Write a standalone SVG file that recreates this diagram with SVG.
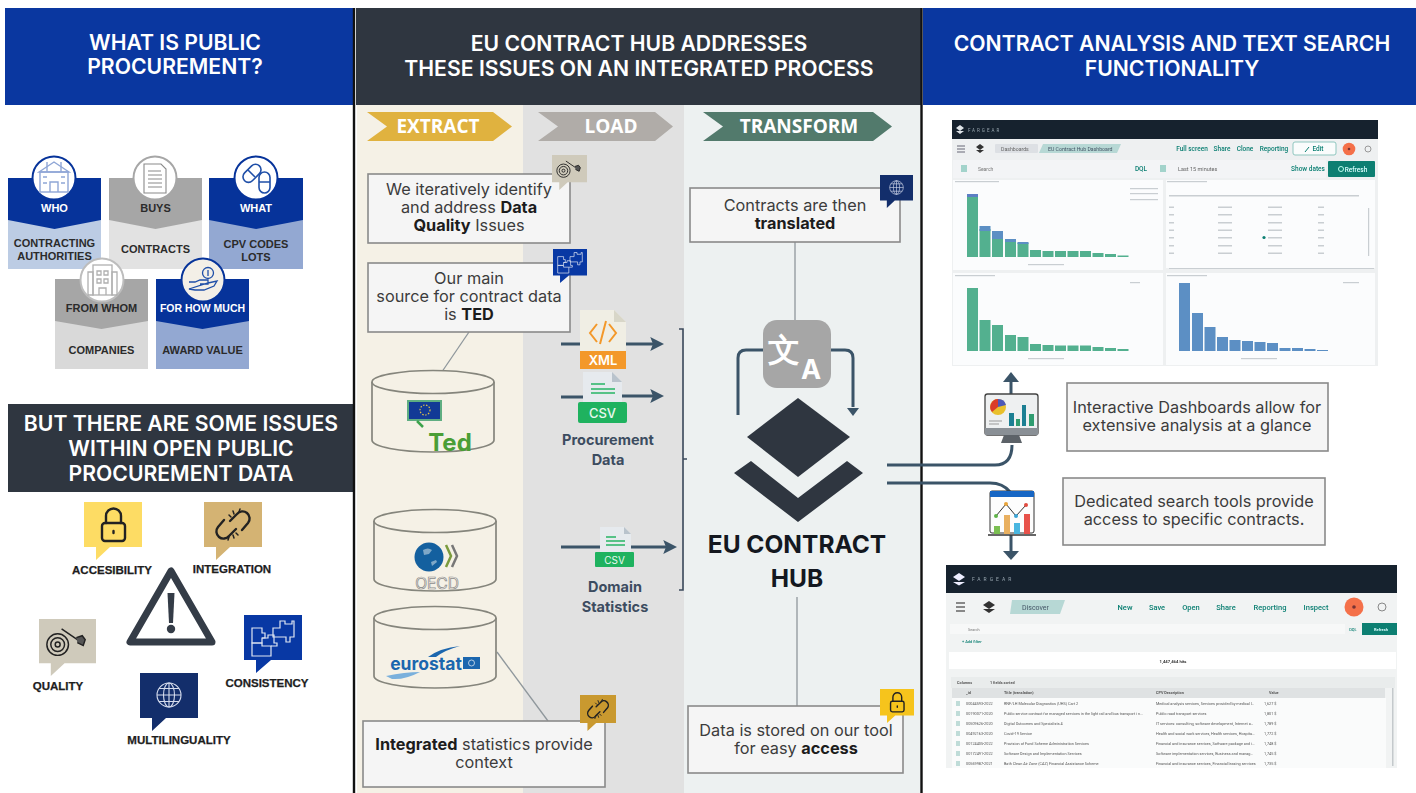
<svg xmlns="http://www.w3.org/2000/svg" width="1416" height="793" viewBox="0 0 1416 793">
<style>
text{font-family:"Inter","Liberation Sans",sans-serif;text-anchor:middle}
.hd{fill:#fff;font-weight:600;font-size:21.200px}
.step{fill:#fff;font-family:"Open Sans","Liberation Sans",sans-serif;font-weight:700;font-size:19px}
.cl{font-family:"Liberation Sans",sans-serif;font-weight:700;font-size:11px;fill:#2b2b2b}
.cw{font-family:"Liberation Sans",sans-serif;font-weight:700;font-size:11px;fill:#fff}
.il{font-family:"Liberation Sans",sans-serif;font-weight:700;font-size:11.500px;fill:#1e1e1e;stroke:#1e1e1e;stroke-width:.25px}
.bx{fill:#f5f5f5;stroke:#8a8a8a;stroke-width:1.600}
.tx{font-size:16.300px;fill:#3c3c3c}
.tx tspan{font-weight:700;fill:#1c1c1c}
.pd{font-weight:700;font-size:14.500px;fill:#3c4c60}
.cn{fill:none;stroke:#3b5468;stroke-width:3}
.th{fill:none;stroke:#8f979c;stroke-width:1.300}
.cy{fill:#f5f1e6;stroke:#85857c;stroke-width:1.700}
.ink{fill:none;stroke:#222;stroke-width:2.400;stroke-linecap:round;stroke-linejoin:round}
.s{font-family:"Roboto","Liberation Sans",sans-serif;text-anchor:start}
.m{font-family:"Roboto","Liberation Sans",sans-serif;text-anchor:middle}
.n{fill:#0b7f72;font-size:6.500px;font-weight:500;text-anchor:middle}
.r{fill:#555;font-size:3.800px}
.g{fill:#52b08f}.b{fill:#5b8fc4}
.ln{fill:#c9ced2}
</style>
<defs>
<filter id="soft" x="-5%" y="-5%" width="110%" height="110%"><feGaussianBlur stdDeviation="0.35"/></filter>
<marker id="ah" viewBox="0 0 10 10" refX="2" refY="5" markerWidth="4.600" markerHeight="4.600" orient="auto-start-reverse"><path d="M0 0L10 5L0 10L2 5Z" fill="#3b5468"/></marker>
<symbol id="lock" viewBox="0 0 58 58" overflow="visible"><path d="M0 0H58V45H26L12 58V45H0Z" fill="#fddc64"/><g class="ink"><rect x="18" y="21" width="23" height="18" rx="3"/><path d="M22 21V14a7.500 7.500 0 0 1 15 0V21"/><path d="M29.500 29v2"/></g></symbol>
<symbol id="lock2" viewBox="0 0 58 58" overflow="visible"><path d="M0 0H58V45H26L12 58V45H0Z" fill="#f6c41c"/><g class="ink"><rect x="18" y="21" width="23" height="18" rx="3"/><path d="M22 21V14a7.500 7.500 0 0 1 15 0V21"/><path d="M29.500 29v2"/></g></symbol>
<g id="chainart" class="ink"><path d="M26 19L33 12a7 7 0 0 1 11 9L38 28"/><path d="M32 27L25 34a7 7 0 0 1-11-9L20 18"/><path d="M29 9l1 3M36 7l-1 3M25 13l2 2M30 36l-1-3M24 38l1-3M34 33l-2-2" stroke-width="1.500"/></g>
<symbol id="chain" viewBox="0 0 58 58" overflow="visible"><path d="M0 0H58V45H26L12 58V45H0Z" fill="#d4b373"/><use href="#chainart"/></symbol>
<symbol id="chain2" viewBox="0 0 58 58" overflow="visible"><path d="M0 0H58V45H26L12 58V45H0Z" fill="#c9992f"/><use href="#chainart"/></symbol>
<symbol id="target" viewBox="0 0 58 58" overflow="visible"><path d="M0 0H58V45H26L12 58V45H0Z" fill="#cfcabb"/><g fill="none" stroke="#222" stroke-width="1.500"><circle cx="19" cy="26" r="11"/><circle cx="19" cy="26" r="7"/><circle cx="19" cy="26" r="2.500"/><path d="M23 10L45 25"/><path d="M38 19l6-2 3 4-2 6-6-3" fill="#555"/></g></symbol>
<symbol id="puzzle" viewBox="0 0 58 58" overflow="visible"><path d="M0 0H58V45H27L12 58V45H0Z" fill="#0838a4"/><g fill="none" stroke="#dfe6f2" stroke-width="1.200"><path d="M8 13H18v5h3v5h-3v5H8Z"/><path d="M8 28H18v3h9v10H8Z"/><path d="M18 23h6v-3h6v8h3v3h-6"/><path d="M29 13h7V6h5v3h7v-3h2v16h-4v5h-4v-5h-13Z"/></g></symbol>
<symbol id="globe" viewBox="0 0 58 58" overflow="visible"><path d="M0 0H58V45H26L12 58V45H0Z" fill="#132e6b"/><g fill="none" stroke="#d5dced" stroke-width="1.100"><circle cx="29" cy="22" r="12"/><ellipse cx="29" cy="22" rx="5.500" ry="12"/><path d="M29 10V34M17 22H41M19 15.500H39M19 28.500H39"/></g></symbol>
<g id="db"><path class="cy" d="M0 12V70A61 12 0 0 0 122 70V12"/><ellipse class="cy" cx="61" cy="12" rx="61" ry="11.500"/></g>
</defs>

<rect width="1416" height="793" fill="#fff"/>
<g id="backgrounds">
<rect x="357" y="105" width="166" height="688" fill="#f5f1e6"/>
<rect x="523" y="105" width="161" height="688" fill="#e1e1e1"/>
<rect x="684" y="105" width="237" height="688" fill="#edf1f1"/>
<rect x="5" y="8" width="348" height="97" fill="#0a37a0"/>
<rect x="356" y="8" width="565" height="97" fill="#2f3640"/>
<rect x="923" y="8" width="493" height="97" fill="#0a37a0"/>
<rect x="8" y="404" width="346" height="88" fill="#2f3640"/>
<path d="M354 8V793M921.500 8V793" stroke="#111" stroke-width="2.400"/>
</g>

<g id="header-left"><text class="hd" x="175" y="50">WHAT IS PUBLIC</text><text class="hd" x="175" y="74">PROCUREMENT?</text></g>
<g id="header-middle"><text class="hd" x="639" y="51">EU CONTRACT HUB ADDRESSES</text><text class="hd" x="639" y="76">THESE ISSUES ON AN INTEGRATED PROCESS</text></g>
<g id="header-right"><text class="hd" x="1172" y="51">CONTRACT ANALYSIS AND TEXT SEARCH</text><text class="hd" x="1172" y="76">FUNCTIONALITY</text></g>
<g id="header-issues"><text class="hd" x="181" y="431">BUT THERE ARE SOME ISSUES</text><text class="hd" x="181" y="456">WITHIN OPEN PUBLIC</text><text class="hd" x="181" y="481">PROCUREMENT DATA</text></g>

<g id="card-who"><rect x="8" y="178" width="93" height="91" fill="#bccce4"/><path d="M8 178H101V220L54.500 229L8 220Z" fill="#06339a"/><circle cx="54" cy="178" r="21.500" fill="#fff" stroke="#06339a" stroke-width="2"/>
<g fill="none" stroke="#8fa6d6" stroke-width="1.400"><path d="M39 172L54 162L69 172Z"/><rect x="40" y="172" width="28" height="20"/><path d="M47 162V172M61 162V172M50 192V182H58V192M43 177H47M61 177H65M43 183H47M61 183H65"/></g>
<text class="cw" x="54.500" y="212">WHO</text><text class="cl" x="54.500" y="247">CONTRACTING</text><text class="cl" x="54.500" y="260">AUTHORITIES</text></g>

<g id="card-buys"><rect x="109" y="178" width="93" height="91" fill="#e2e2e2"/><path d="M109 178H202V220L155.500 229L109 220Z" fill="#a6a6a6"/><circle cx="155" cy="178" r="21.500" fill="#fff" stroke="#a6a6a6" stroke-width="2"/>
<g fill="none" stroke="#8a8a8a" stroke-width="1.100"><path d="M144 164H161L166 169V193H144Z"/><path d="M148 171H161M148 175H162M148 179H162M148 183H162M148 187H162"/></g>
<text x="155.500" y="212" class="cl">BUYS</text><text class="cl" x="155.500" y="253">CONTRACTS</text></g>

<g id="card-what"><rect x="209" y="178" width="94" height="91" fill="#93a8d2"/><path d="M209 178H303V220L256 229L209 220Z" fill="#06339a"/><circle cx="256" cy="178" r="21.500" fill="#fff" stroke="#06339a" stroke-width="2"/>
<g fill="none" stroke="#1f4fa8" stroke-width="1.600"><rect x="242" y="168" width="21" height="11" rx="5.500" transform="rotate(-45 252 174)"/><rect x="259" y="172" width="11" height="21" rx="5.500"/><path d="M259 182H270M248 170l7 7"/></g>
<text class="cw" x="256" y="212">WHAT</text><text class="cl" x="256" y="248">CPV CODES</text><text class="cl" x="256" y="261">LOTS</text></g>

<g id="card-from-whom"><rect x="55" y="279" width="93" height="90" fill="#d9d9d9"/><path d="M55 279H148V321L101.500 329L55 321Z" fill="#a6a6a6"/><circle cx="102" cy="280" r="21.500" fill="#fff" stroke="#bdbdbd" stroke-width="2"/>
<g fill="none" stroke="#b0b0b0" stroke-width="1.300"><rect x="93" y="265" width="19" height="30"/><path d="M88 272H93V295H88ZM112 272H117V295H112Z"/><path d="M97 271h4v4h-4zM104 271h4v4h-4zM97 279h4v4h-4zM104 279h4v4h-4zM99 295V288H106V295"/></g>
<text class="cl" x="101.500" y="312">FROM WHOM</text><text class="cl" x="101.500" y="354">COMPANIES</text></g>

<g id="card-how-much"><rect x="156" y="279" width="93" height="90" fill="#93a8d2"/><path d="M156 279H249V321L202.500 329L156 321Z" fill="#06339a"/><circle cx="203" cy="280" r="21.500" fill="#f3efe7" stroke="#06339a" stroke-width="2"/>
<g fill="none" stroke="#1f4fa8" stroke-width="1.300"><circle cx="208" cy="273" r="5.500"/><path d="M208 270v6"/><path d="M189 282H195L200 280H208V284H200M208 283L217 281L214 286L204 290H195L189 289Z"/></g>
<text class="cw" x="202.500" y="312" style="font-size:10.500px">FOR HOW MUCH</text><text class="cl" x="202.500" y="354">AWARD VALUE</text></g>

<g id="issue-warning"><path d="M171 571L130 642H212Z" fill="none" stroke="#343c47" stroke-width="7" stroke-linejoin="round"/><path d="M167.500 593H174.500L173 623H169Z" fill="#343c47"/><circle cx="171" cy="629" r="4.200" fill="#343c47"/></g>
<g id="issue-accesibility"><use href="#lock" x="84" y="502" width="58" height="58"/><text class="il" x="112" y="574">ACCESIBILITY</text></g>
<g id="issue-integration"><use href="#chain" x="204" y="502" width="58" height="58"/><text class="il" x="232" y="573">INTEGRATION</text></g>
<g id="issue-quality"><use href="#target" x="39" y="619" width="57" height="57"/><text class="il" x="58" y="690">QUALITY</text></g>
<g id="issue-consistency"><use href="#puzzle" x="244" y="615" width="58" height="58"/><text class="il" x="267" y="687">CONSISTENCY</text></g>
<g id="issue-multilinguality"><use href="#globe" x="140" y="673" width="58" height="58"/><text class="il" x="179" y="744">MULTILINGUALITY</text></g>

<g id="step-extract"><path d="M367 112H493L512 126.500L493 141H367L387 126.500Z" fill="#e0b23f"/><text class="step" x="438" y="133">EXTRACT</text></g>
<g id="step-load"><path d="M538 112H655L673 126.500L655 141H538L558 126.500Z" fill="#b0aca8"/><text class="step" x="611" y="133">LOAD</text></g>
<g id="step-transform"><path d="M703 112H873L892 126.500L873 141H703L723 126.500Z" fill="#527a6c"/><text class="step" x="799" y="133">TRANSFORM</text></g>

<g id="connectors">
<path class="th" d="M469 332L435 382"/>
<path class="th" d="M497 652L548 721"/>
<path class="th" d="M795 242V320"/>
<path class="th" d="M797 597V706"/>
<path class="cn" d="M561 344H580M626 344H653" marker-end="url(#ah)"/>
<path class="cn" d="M561 397H583M622 396H653" marker-end="url(#ah)"/>
<path class="cn" d="M561 547H600M631 547H666" marker-end="url(#ah)"/>
<path fill="none" stroke="#3b4a5c" stroke-width="1.600" d="M679 329H683V590H679M683 459H687"/>
<path class="cn" d="M738 415V358Q738 350 746 350H763"/>
<path class="cn" d="M831 350H845Q853 350 853 358V407"/>
<path d="M847 408H859L853 416Z" fill="#3b5468"/>
<path class="cn" d="M887 465H995Q1012 465 1012 445"/>
<path class="cn" d="M887 483H990Q1003 483 1010 492"/>
<path class="cn" d="M1011 394V380"/><path d="M1003 382L1011 372L1019 382Z" fill="#3b5468"/>
<path class="cn" d="M1011 535V553"/><path d="M1003 551L1011 560L1019 551Z" fill="#3b5468"/>
</g>

<g id="note-quality"><rect class="bx" x="368" y="174" width="202" height="69"/><text class="tx" x="469" y="195">We iteratively identify</text><text class="tx" x="469" y="213">and address <tspan>Data</tspan></text><text class="tx" x="469" y="231"><tspan>Quality</tspan> Issues</text><use href="#target" x="552" y="155" width="35" height="35"/></g>
<g id="note-ted"><rect class="bx" x="368" y="263" width="202" height="69"/><text class="tx" x="469" y="284">Our main</text><text class="tx" x="469" y="302">source for contract data</text><text class="tx" x="469" y="320">is <tspan>TED</tspan></text><use href="#puzzle" x="553" y="249" width="34" height="34"/></g>
<g id="note-integrated"><rect class="bx" x="363" y="721" width="242" height="66"/><text class="tx" x="484" y="750"><tspan>Integrated</tspan> statistics provide</text><text class="tx" x="484" y="768">context</text><use href="#chain2" x="580" y="695" width="36" height="36"/></g>
<g id="note-translated"><rect class="bx" x="690" y="188" width="210" height="54"/><text class="tx" x="795" y="211">Contracts are then</text><text class="tx" x="795" y="229"><tspan>translated</tspan></text><use href="#globe" x="880" y="175" width="33" height="33"/></g>
<g id="note-stored"><rect class="bx" x="688" y="706" width="215" height="67"/><text class="tx" x="796" y="736">Data is stored on our tool</text><text class="tx" x="796" y="754">for easy <tspan>access</tspan></text><use href="#lock2" x="880" y="689" width="34" height="34"/></g>
<g id="note-dashboards"><rect class="bx" x="1067" y="383" width="261" height="68"/><text class="tx" x="1197" y="413">Interactive Dashboards allow for</text><text class="tx" x="1197" y="431">extensive analysis at a glance</text></g>
<g id="note-search"><rect class="bx" x="1063" y="478" width="262" height="67"/><text class="tx" x="1194" y="507">Dedicated search tools provide</text><text class="tx" x="1194" y="525">access to specific contracts.</text></g>

<g id="db-ted"><use href="#db" x="372" y="370"/><rect x="408" y="401" width="33" height="19" fill="#123a96" stroke="#5fae82" stroke-width="2"/><circle cx="425" cy="410" r="5" fill="none" stroke="#e0c14a" stroke-width="1.200" stroke-dasharray="1.500 1.500"/><path d="M417 421l6 6" stroke="#3da34c" stroke-width="2.500"/><text x="450" y="451" font-family="Liberation Sans,sans-serif" font-weight="700" font-size="24" fill="#4a9e36">Ted</text></g>
<g id="db-oecd"><use href="#db" x="374" y="509"/><circle cx="429" cy="557" r="14.500" fill="#14609f"/><path d="M423 550q5-3 9 0l-3 4-5 1zM431 562l5-2 1 2-5 4z" fill="#7fa8c8"/><path d="M446 545l5 11-5 11" fill="none" stroke="#7b9b3d" stroke-width="2.500"/><path d="M452 545l5 11-5 11" fill="none" stroke="#777" stroke-width="2.500"/><text x="437" y="589" font-family="Liberation Sans,sans-serif" font-size="15.500" fill="none" stroke="#8c8c8c" stroke-width=".7">OECD</text></g>
<g id="db-eurostat"><use href="#db" x="374" y="606"/><text x="426" y="670" font-family="Liberation Sans,sans-serif" font-weight="700" font-size="17.500" fill="#1b66ae">eurostat</text><rect x="463" y="657" width="17" height="12" fill="#1b66ae"/><circle cx="471.500" cy="663" r="3" fill="none" stroke="#d6e3f0" stroke-width=".8"/><path d="M428 657Q440 648 460 646Q445 650 436 657Z" fill="#1b66ae"/><path d="M386 676Q405 672 420 672Q405 680 392 679Z" fill="#7ab0dc"/></g>

<g id="file-xml"><path d="M580 310H614L626 322V352H580Z" fill="#f0eee4"/><path d="M614 310L626 322H614Z" fill="#d8d6c8"/><path d="M597 324L590 333L597 342M609 324L616 333L609 342M606 321L600 344" fill="none" stroke="#f3982a" stroke-width="2"/><rect x="580" y="351" width="46" height="18" fill="#f3982a"/><text x="603" y="365" font-size="13" font-weight="600" fill="#fff">XML</text></g>
<g id="file-csv"><path d="M583 372H612L622 382V403H583Z" fill="#e6eaee"/><path d="M612 372L622 382H612Z" fill="#b9c3cc"/><path d="M591 384H605M591 389H615M591 393H615" stroke="#27b566" stroke-width="1.500"/><rect x="578" y="402" width="49" height="21" rx="2" fill="#1fb25f"/><text x="602.500" y="418" font-size="13" font-weight="500" fill="#e9f8ef">CSV</text><text class="pd" x="608" y="445">Procurement</text><text class="pd" x="608" y="465">Data</text></g>
<g id="file-domain"><path d="M600 527H624L631 534V553H600Z" fill="#e6eaee"/><path d="M624 527L631 534H624Z" fill="#b9c3cc"/><path d="M606 537H616M606 541H625M606 545H625" stroke="#27b566" stroke-width="1.300"/><rect x="595" y="552" width="39" height="15" rx="1" fill="#1fb25f"/><text x="614.500" y="564" font-size="10" fill="#e9f8ef">CSV</text><text class="pd" x="615" y="592">Domain</text><text class="pd" x="615" y="612">Statistics</text></g>

<g id="translate"><rect x="763" y="320" width="68" height="68" rx="14" fill="#a6a6a6"/><text x="784" y="361" font-family="Noto Sans CJK SC,sans-serif" font-weight="700" font-size="32" fill="#fff">文</text><text x="811" y="379" font-family="Liberation Sans,sans-serif" font-weight="700" font-size="27" fill="#fff">A</text></g>
<g id="hub"><path d="M798 398L850 437L798 477L747 437Z" fill="#2f3640"/><path d="M734 473L751 461L798 498L847 461L863 473L798 522Z" fill="#2f3640"/><text x="797" y="553" font-size="24.500" font-weight="700" fill="#14181f">EU CONTRACT</text><text x="797" y="587" font-size="24.500" font-weight="700" fill="#14181f">HUB</text></g>

<g id="icon-dashboard"><rect x="985" y="394" width="53" height="41" rx="2.500" fill="#eef0f1" stroke="#444" stroke-width="1.300"/><rect x="985" y="428" width="53" height="7" fill="#8a9096"/><path d="M1004 435H1019L1022 443H1001Z" fill="#5c6268"/><circle cx="998" cy="407" r="8" fill="#e9c02c"/><path d="M998 407V399A8 8 0 0 0 992 412Z" fill="#d93c2a"/><path d="M998 407V399A8 8 0 0 1 1006 405Z" fill="#4c58b8"/><path d="M989 421H1002M989 424H999" stroke="#999"/><rect x="1009" y="413" width="5" height="13" fill="#1c7f93"/><rect x="1016" y="419" width="4" height="7" fill="#2f9c70"/><rect x="1022" y="405" width="4" height="21" fill="#1c7f93"/><rect x="1029" y="414" width="5" height="12" fill="#2f9c70"/></g>
<g id="icon-search"><rect x="990" y="491" width="44" height="42" rx="2" fill="#fdfdfd" stroke="#333"/><rect x="990" y="491" width="44" height="6" fill="#1766c4"/><path d="M996 516L1006 504L1016 516L1026 505" fill="none" stroke="#333"/><circle cx="996" cy="516" r="2" fill="#5fb548"/><circle cx="1006" cy="504" r="2" fill="#e9a43a"/><circle cx="1016" cy="516" r="2" fill="#3aa4d6"/><circle cx="1026" cy="505" r="2" fill="#e04b40"/><rect x="994" y="526" width="6" height="8" fill="#7bbf52"/><rect x="1004" y="515" width="6" height="19" fill="#e9b060"/><rect x="1014" y="523" width="6" height="11" fill="#49b6e0"/><rect x="1024" y="514" width="6" height="20" fill="#e8524a"/><path d="M988 535H1036" stroke="#333" stroke-width="1.300"/></g>

<g id="screenshot-dashboard" filter="url(#soft)">
<rect x="952" y="120" width="426" height="246" fill="#eef0f1"/><rect x="952" y="120" width="426" height="19" fill="#14222f"/>
<path d="M956 128l4-3 4 3-4 3zM956 131l4 3 4-3" fill="#dfe4e8"/>
<text class="s" x="968" y="132" font-size="4.500" letter-spacing="2" fill="#9aa5ad">FARGEAR</text>
<path d="M957 146H965M957 149H965M957 152H965" stroke="#667" stroke-width="1.200"/><path d="M976 147l4-3 4 3-4 3zM976 150l4 3 4-3" fill="#333"/>
<rect x="995" y="144" width="43" height="9" rx="1" fill="#dde0e4"/><path d="M1043 144H1121L1117 153H1039Z" fill="#b7d8d5"/>
<text class="s" x="1001" y="151" font-size="5.200" fill="#666">Dashboards</text><text class="s" x="1048" y="151" font-size="5.200" fill="#456">EU Contract Hub Dashboard</text>
<text class="s n" x="1192" y="151">Full screen</text><text class="s n" x="1222" y="151">Share</text><text class="s n" x="1245" y="151">Clone</text><text class="s n" x="1274" y="151">Reporting</text>
<rect x="1293" y="142" width="43" height="13" rx="2" fill="#fafcfc" stroke="#8fc6bf"/><text class="s n" x="1318" y="151">Edit</text><path d="M1305 152l4-5" stroke="#0b7f72"/>
<circle cx="1349" cy="149" r="6.300" fill="#f4704a"/><circle cx="1349" cy="149" r="1.300" fill="#733"/><circle cx="1368" cy="149" r="3" fill="none" stroke="#999"/>
<rect x="953" y="160" width="208" height="18" fill="#f3f4f6"/><rect x="1156" y="160" width="170" height="18" fill="#f3f4f6"/>
<rect x="961" y="165" width="6" height="7" fill="#a3d3cb"/><text class="s" x="978" y="171" font-size="5" fill="#777">Search</text><text class="s n" x="1141" y="171">DQL</text>
<rect x="1160" y="165" width="6" height="7" fill="#a3d3cb"/><text class="s" x="1178" y="171" font-size="5.500" fill="#666">Last 15 minutes</text><text class="s n" x="1308" y="171">Show dates</text>
<rect x="1328" y="161" width="47" height="16" rx="1" fill="#0b7f72"/><text class="m" x="1356" y="172" fill="#dff" font-size="6.500" font-weight="500">Refresh</text><circle cx="1341" cy="169" r="2.500" fill="none" stroke="#bfe"/>
<rect x="953" y="180" width="210" height="90" fill="#fbfcfd"/><rect x="1166" y="180" width="209" height="88" fill="#fbfcfd"/><rect x="953" y="273" width="210" height="92" fill="#fbfcfd"/><rect x="1166" y="273" width="209" height="92" fill="#fbfcfd"/>
<g class="ln"><rect x="955" y="181" width="44" height="1.200"/><rect x="1167" y="181" width="40" height="1.200"/><rect x="955" y="275" width="40" height="1.200"/><rect x="1167" y="275" width="40" height="1.200"/><rect x="1028" y="264" width="36" height="1.200"/><rect x="1028" y="358" width="36" height="1.200"/><rect x="1241" y="358" width="36" height="1.200"/><rect x="1130" y="188" width="28" height="1.200"/><rect x="1130" y="193" width="28" height="1.200"/><rect x="1130" y="199" width="28" height="1.200"/><rect x="1130" y="282" width="10" height="1.200"/><rect x="1343" y="282" width="16" height="1.200"/></g>
<g class="g">
<rect x="967" y="196" width="11" height="61"/><rect x="979.500" y="229" width="11" height="28"/><rect x="992" y="237" width="11" height="20"/><rect x="1005" y="241" width="11" height="16"/><rect x="1017.500" y="243" width="11" height="14"/><rect x="1030" y="250" width="11" height="7"/><rect x="1042.500" y="251" width="11" height="6"/><rect x="1055" y="251" width="11" height="6"/><rect x="1067.500" y="251" width="11" height="6"/><rect x="1080" y="251" width="11" height="6"/><rect x="1092.500" y="253" width="11" height="4"/><rect x="1105" y="254" width="11" height="3"/><rect x="1117.500" y="255.500" width="11" height="1.500"/>
<rect x="967" y="288" width="11" height="63"/><rect x="979.500" y="320" width="11" height="31"/><rect x="992" y="325" width="11" height="26"/><rect x="1005" y="335" width="11" height="16"/><rect x="1017.500" y="337" width="11" height="14"/><rect x="1030" y="344" width="11" height="7"/><rect x="1042.500" y="345" width="11" height="6"/><rect x="1055" y="345.500" width="11" height="5.500"/><rect x="1067.500" y="345.500" width="11" height="5.500"/><rect x="1080" y="345.500" width="11" height="5.500"/><rect x="1092.500" y="347" width="11" height="4"/><rect x="1105" y="348" width="11" height="3"/><rect x="1117.500" y="349" width="11" height="2"/></g>
<rect x="967" y="194" width="11" height="3" fill="#5b7fc4"/><rect x="979.500" y="226" width="11" height="5" fill="#5b8fc4"/><rect x="992" y="231" width="11" height="8" fill="#5b8fc4"/><rect x="1005" y="239" width="11" height="3" fill="#5b8fc4"/><rect x="1017.500" y="242" width="11" height="2" fill="#5b8fc4"/>
<g class="b"><rect x="1179" y="283" width="11" height="68"/><rect x="1192" y="313" width="11" height="38"/><rect x="1204.500" y="327" width="11" height="24"/><rect x="1217" y="337" width="11" height="14"/><rect x="1229.500" y="340" width="11" height="11"/><rect x="1242" y="341" width="11" height="10"/><rect x="1254.500" y="342" width="11" height="9"/><rect x="1267" y="343" width="11" height="8"/><rect x="1279.500" y="348" width="11" height="3"/><rect x="1292" y="348" width="11" height="3"/><rect x="1304.500" y="349" width="11" height="2"/><rect x="1317" y="350" width="11" height="1"/></g>
<g class="ln"><rect x="1169" y="195" width="190" height="1.500"/><rect x="1169" y="206.500" width="5" height="1.500"/><rect x="1218" y="206.500" width="14" height="1.500"/><rect x="1268" y="206.500" width="14" height="1.500"/><rect x="1318" y="206.500" width="6" height="1.500"/><rect x="1169" y="214" width="5" height="1.500"/><rect x="1218" y="214" width="14" height="1.500"/><rect x="1268" y="214" width="14" height="1.500"/><rect x="1318" y="214" width="6" height="1.500"/><rect x="1169" y="222" width="5" height="1.500"/><rect x="1218" y="222" width="14" height="1.500"/><rect x="1268" y="222" width="14" height="1.500"/><rect x="1318" y="222" width="6" height="1.500"/><rect x="1169" y="229.500" width="5" height="1.500"/><rect x="1218" y="229.500" width="14" height="1.500"/><rect x="1268" y="229.500" width="14" height="1.500"/><rect x="1318" y="229.500" width="6" height="1.500"/><rect x="1169" y="237" width="5" height="1.500"/><rect x="1218" y="237" width="14" height="1.500"/><rect x="1268" y="237" width="14" height="1.500"/><rect x="1318" y="237" width="6" height="1.500"/><rect x="1169" y="245" width="5" height="1.500"/><rect x="1218" y="245" width="14" height="1.500"/><rect x="1268" y="245" width="14" height="1.500"/><rect x="1318" y="245" width="6" height="1.500"/><rect x="1169" y="252.500" width="5" height="1.500"/><rect x="1218" y="252.500" width="14" height="1.500"/><rect x="1268" y="252.500" width="14" height="1.500"/><rect x="1318" y="252.500" width="6" height="1.500"/><rect x="1169" y="268" width="205" height="1"/><rect x="1368" y="208" width="1.200" height="48"/></g>
<circle cx="1264" cy="237.500" r="1.600" fill="#0b7f72"/>
</g>

<g id="screenshot-search" filter="url(#soft)">
<rect x="946" y="593" width="451" height="175" fill="#f1f3f3"/><rect x="946" y="565" width="451" height="28" fill="#14222f"/>
<path d="M953 577l6-4 6 4-6 4zM953 582l6 3.500 6-3.500" fill="#eef"/>
<text class="s" x="972" y="581" font-size="5" letter-spacing="3" fill="#9aa5ad">FARGEAR</text>
<path d="M956 603H965M956 607H965M956 611H965" stroke="#666" stroke-width="1.500"/><path d="M983 605l6-4 6 4-6 4zM983 609l6 4 6-4" fill="#333"/>
<path d="M1012 600H1065L1060 614H1010Z" fill="#b7d8d5"/><text class="s" x="1022" y="610" font-size="7" fill="#456">Discover</text>
<text class="m" x="1125" y="610" font-size="7.500" font-weight="500" fill="#0b7f72">New</text><text class="m" x="1157" y="610" font-size="7.500" font-weight="500" fill="#0b7f72">Save</text><text class="m" x="1191" y="610" font-size="7.500" font-weight="500" fill="#0b7f72">Open</text><text class="m" x="1226" y="610" font-size="7.500" font-weight="500" fill="#0b7f72">Share</text><text class="m" x="1270" y="610" font-size="7.500" font-weight="500" fill="#0b7f72">Reporting</text><text class="m" x="1316" y="610" font-size="7.500" font-weight="500" fill="#0b7f72">Inspect</text>
<circle cx="1354" cy="607" r="9.500" fill="#f4704a"/><circle cx="1354" cy="607" r="1.800" fill="#733"/><circle cx="1382" cy="607" r="4" fill="none" stroke="#888"/>
<rect x="950" y="624" width="395" height="10" fill="#f7f8f8"/><text class="s" x="968" y="631" font-size="3.800" fill="#777">Search</text><text class="m" x="1353" y="631" font-size="4" font-weight="500" fill="#0b7f72">DQL</text>
<rect x="1362" y="623" width="35" height="12" fill="#0b7f72"/><text class="m" x="1381" y="631" fill="#dff" font-size="4" font-weight="700">Refresh</text>
<text class="s" x="962" y="643" font-size="4" font-weight="500" fill="#0b7f72">+ Add filter</text>
<rect x="949" y="652" width="447" height="17" fill="#fff"/><text class="m" x="1173" y="663" font-size="4.200" font-weight="700" fill="#333">1,447,464 hits</text>
<rect x="951" y="677" width="444" height="11" fill="#e9ecec"/><text class="s r" x="957" y="684" font-weight="700">Columns</text><text class="s r" x="990" y="684" font-weight="700">1 fields sorted</text>
<rect x="952" y="688" width="433" height="10" fill="#dfe2e3"/>
<text class="s r" x="966" y="694" font-weight="700">_id</text><text class="s r" x="1004" y="694" font-weight="700">Title (translation)</text><text class="s r" x="1156" y="694" font-weight="700">CPV Description</text><text class="s r" x="1269" y="694" font-weight="700">Value</text>
<rect x="952" y="698" width="434" height="70" fill="#fafbfb"/>
<text class="s r" x="966" y="704.500">00044593-2022</text><text class="s r" x="1004" y="704.500">RNF/LH Molecular Diagnostics (UHS) Cart 2</text><text class="s r" x="1156" y="704.500">Medical analysis services, Services provided by medical l…</text><text class="s r" x="1264" y="704.500">1,627 $</text>
<text class="s r" x="966" y="714.500">00190071-2020</text><text class="s r" x="1004" y="714.500">Public service contract for managed services in the light rail and bus transport i n…</text><text class="s r" x="1156" y="714.500">Public road transport services</text><text class="s r" x="1264" y="714.500">1,801 $</text>
<text class="s r" x="966" y="724.500">00509626-2020</text><text class="s r" x="1004" y="724.500">Digital Outcomes and Specialists 4</text><text class="s r" x="1156" y="724.500">IT services: consulting, software development, Internet a…</text><text class="s r" x="1264" y="724.500">1,789 $</text>
<text class="s r" x="966" y="734.500">00492163-2020</text><text class="s r" x="1004" y="734.500">Covid-19 Service</text><text class="s r" x="1156" y="734.500">Health and social work services, Health services, Hospita…</text><text class="s r" x="1264" y="734.500">1,772 $</text>
<text class="s r" x="966" y="744.500">00124405-2022</text><text class="s r" x="1004" y="744.500">Provision of Fund Scheme Administration Services</text><text class="s r" x="1156" y="744.500">Financial and insurance services, Software package and i…</text><text class="s r" x="1264" y="744.500">1,748 $</text>
<text class="s r" x="966" y="754.500">00172491-2022</text><text class="s r" x="1004" y="754.500">Software Design and Implementation Services</text><text class="s r" x="1156" y="754.500">Software implementation services, Business and manag…</text><text class="s r" x="1264" y="754.500">1,745 $</text>
<text class="s r" x="966" y="764.500">00569987-2021</text><text class="s r" x="1004" y="764.500">Bath Clean Air Zone (CAZ) Financial Assistance Scheme</text><text class="s r" x="1156" y="764.500">Financial and insurance services, Financial leasing services</text><text class="s r" x="1264" y="764.500">1,735 $</text>
<path d="M956 701h4v5h-4zM956 711h4v5h-4zM956 721h4v5h-4zM956 731h4v5h-4zM956 741h4v5h-4zM956 751h4v5h-4zM956 761h4v5h-4z" fill="#bfdcd8"/>
<rect x="1392" y="688" width="1.500" height="78" fill="#c4c9cc"/>
</g>
</svg>
